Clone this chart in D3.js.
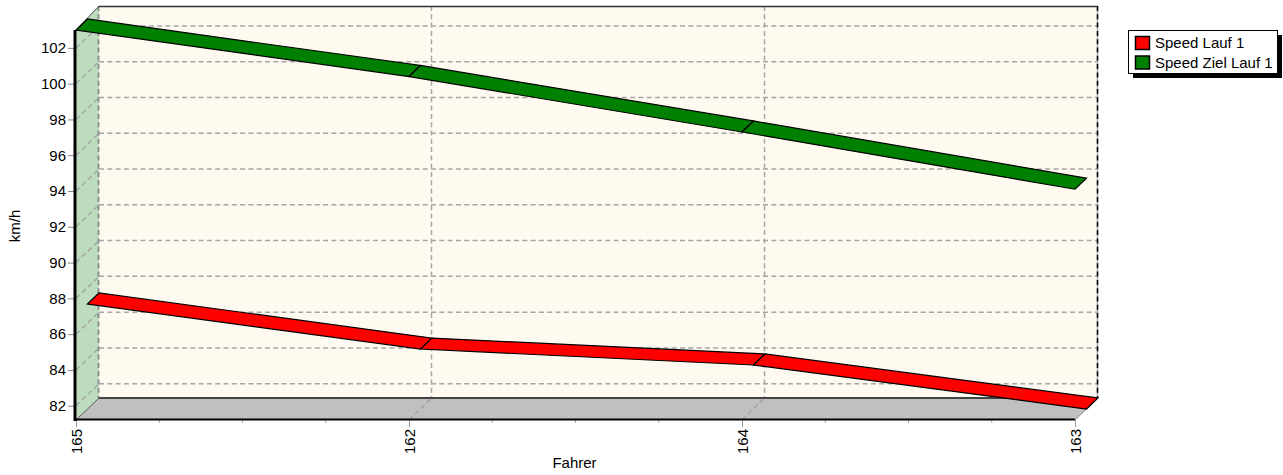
<!DOCTYPE html>
<html><head><meta charset="utf-8">
<style>html,body{margin:0;padding:0;background:#fff}svg{display:block}text{font-family:"Liberation Sans",Arial,sans-serif;font-size:15px;fill:#000}</style>
<script src="https://cdn.jsdelivr.net/npm/d3@7"></script></head><body>
<script>
const categories = ["165","162","164","163"];
const seriesNames = ["Speed Lauf 1","Speed Ziel Lauf 1"];
const speedLauf = [87.07,84.55,83.66,81.2];
const speedZiel = [103.0,100.4,97.3,94.1];
const yTicks = [82,84,86,88,90,92,94,96,98,100,102];
const seriesColors = ["#ff0000","#008000"];

const W=1283,H=475,L=76,R=1075,T=30,B=420,DX=23,DY=22;
const svg=d3.select("body").append("svg").attr("width",W).attr("height",H);
const x=d3.scalePoint().domain(categories).range([L,R]);
const y=d3.scaleLinear().domain([81.2,103]).range([B,T]);
const pts=a=>a.map(p=>p.join(",")).join(" ");
const dash="5,3.3", grey="#a6a6a6";

// back wall, left wall, floor
svg.append("polygon").attr("points",pts([[L+DX,T-DY-2],[R+DX-1,T-DY-2],[R+DX-1,B-DY],[L+DX,B-DY]])).attr("fill","#fffaf0");
svg.append("polygon").attr("points",pts([[L,T],[L+DX,T-DY-2],[L+DX,B-DY],[L,B]])).attr("fill","#bddcbd");
svg.append("polygon").attr("points",pts([[L,B],[L+DX,B-DY],[R+DX,B-DY],[R,B]])).attr("fill","#c0c0c0");

const g=svg.append("g").attr("fill","none").attr("stroke",grey).attr("stroke-dasharray",dash).attr("stroke-width",1.5);
yTicks.forEach(v=>{
  g.append("line").attr("x1",L+DX).attr("x2",R+DX).attr("y1",y(v)-DY).attr("y2",y(v)-DY);
  g.append("line").attr("x1",L).attr("x2",L+DX).attr("y1",y(v)).attr("y2",y(v)-DY);
});
categories.forEach((c,i)=>{
  const bx=x(c)+DX-.5;
  if(i<categories.length-1){
    g.append("line").attr("x1",bx).attr("x2",bx).attr("y1",T-DY-2).attr("y2",B-DY).attr("stroke-width",i===0?2:1.5).attr("stroke",i===0?"#8f8f8f":grey);
  }
  if(i>0&&i<categories.length-1) g.append("line").attr("x1",x(c)).attr("x2",bx).attr("y1",B).attr("y2",B-DY);
});

// frame
const fr=svg.append("g").attr("stroke","#000").attr("fill","none");
fr.append("line").attr("x1",L+DX).attr("x2",R+DX).attr("y1",T-DY-1.5).attr("y2",T-DY-1.5).attr("stroke","#333").attr("stroke-width",1.5);
fr.append("line").attr("x1",R+DX-.5).attr("x2",R+DX-.5).attr("y1",T-DY-2).attr("y2",B-DY).attr("stroke","#aaa").attr("stroke-width",1.5);
fr.append("line").attr("x1",R+DX-.5).attr("x2",R+DX-.5).attr("y1",T-DY-2).attr("y2",B-DY).attr("stroke-dasharray",dash).attr("stroke-width",1.5);
fr.append("line").attr("x1",L+DX).attr("x2",R+DX).attr("y1",B-DY).attr("y2",B-DY).attr("stroke","#444").attr("stroke-width",2);
fr.append("line").attr("x1",L).attr("x2",L+DX).attr("y1",T).attr("y2",T-DY-2).attr("stroke","#555");
fr.append("line").attr("x1",L).attr("x2",L+DX).attr("y1",B).attr("y2",B-DY).attr("stroke","#555");
fr.append("line").attr("x1",R).attr("x2",R+DX).attr("y1",B).attr("y2",B-DY).attr("stroke","#888");

// ribbons: red at back half, green at front half
function ribbon(vals,color,d0,d1){
  const gg=svg.append("g");
  const dx0=DX*d0,dx1=DX*d1,dy0=DY*d0,dy1=DY*d1;
  vals.forEach((v,i)=>{
    if(i===vals.length-1) return;
    const a=x(categories[i]),b=x(categories[i+1]),v2=vals[i+1];
    gg.append("polygon").attr("points",pts([
      [a+dx0,y(v)-dy0],[a+dx1,y(v)-dy1],[b+dx1,y(v2)-dy1],[b+dx0,y(v2)-dy0]
    ])).attr("fill",color).attr("stroke","#000").attr("stroke-width",1.2);
  });
}
ribbon(speedLauf,seriesColors[0],.5,1);
ribbon(speedZiel,seriesColors[1],0,.5);

// axes
const yAxis=d3.axisLeft(y).tickValues(yTicks).tickSize(7).tickPadding(2);
const ya=svg.append("g").attr("transform",`translate(${L-1},0)`).call(yAxis);
ya.select(".domain").remove();
ya.selectAll(".tick line").attr("stroke","#888");
ya.selectAll(".tick text").style("font-size","15px").attr("fill","#000");

const xa=svg.append("g").attr("transform",`translate(0,${B})`);
const xAxis=d3.axisBottom(x).tickSize(7).tickPadding(0);
xa.call(xAxis); xa.select(".domain").remove();
xa.selectAll(".tick line").attr("stroke","#999");
xa.selectAll(".tick text").attr("transform","rotate(-90)").attr("text-anchor","end")
  .attr("x",-9).attr("y",0).attr("dy",".35em").style("font-size","15px");
// minor ticks
const step=(x(categories[1])-x(categories[0]))/4;
d3.range(0,12).forEach(i=>{ if(i%4) svg.append("line").attr("x1",L+i*step).attr("x2",L+i*step).attr("y1",B).attr("y2",B+3).attr("stroke","#aaa"); });

svg.append("line").attr("x1",L-1).attr("x2",L-1).attr("y1",T).attr("y2",B+1).attr("stroke","#000").attr("stroke-width",3);
svg.append("line").attr("x1",L-2).attr("x2",R).attr("y1",B-.5).attr("y2",B-.5).attr("stroke","#000").attr("stroke-width",2);

svg.append("text").attr("transform","translate(20,226) rotate(-90)").attr("text-anchor","middle").text("km/h");
svg.append("text").attr("x",574.5).attr("y",468).attr("text-anchor","middle").text("Fahrer");

// legend
const lg=svg.append("g").attr("transform","translate(1128,30)");
lg.append("rect").attr("x",5).attr("y",5).attr("width",149).attr("height",43).attr("fill","#000");
lg.append("rect").attr("x",.5).attr("y",.5).attr("width",149).attr("height",43).attr("fill","#fff").attr("stroke","#000");
seriesNames.forEach((n,i)=>{
  lg.append("rect").attr("x",7.5).attr("y",6.5+i*19.5).attr("width",14).attr("height",13).attr("fill",seriesColors[i]).attr("stroke","#000").attr("stroke-width",1.5);
  lg.append("text").attr("x",27).attr("y",18+i*19.5).text(n);
});
</script></body></html>
